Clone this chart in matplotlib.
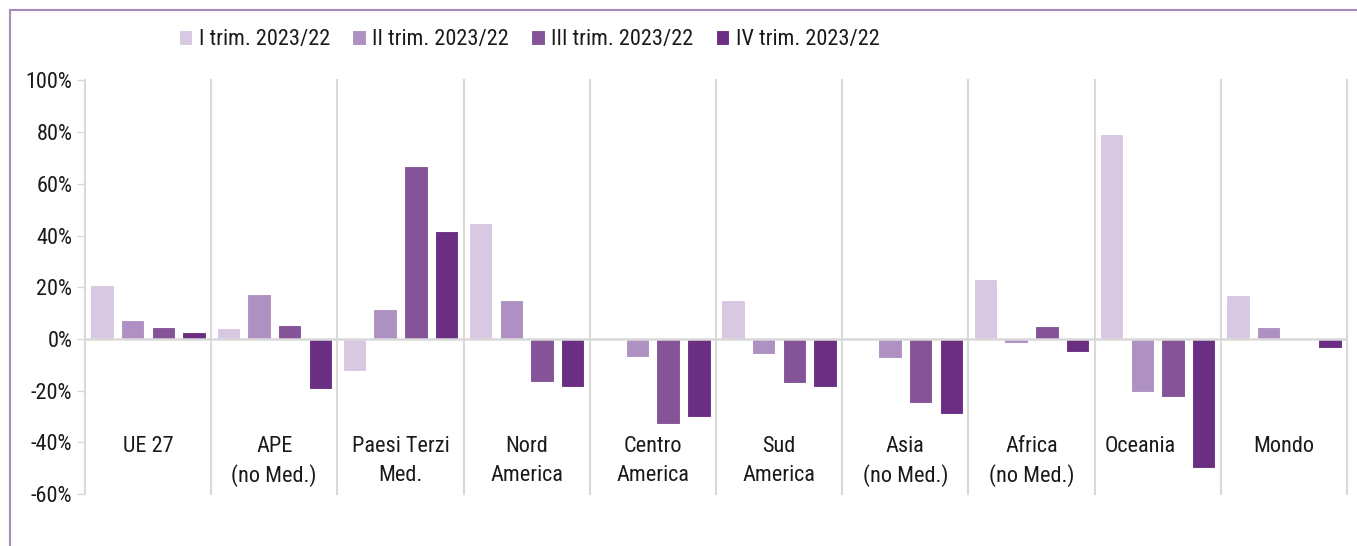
import matplotlib
matplotlib.use('Agg')
import matplotlib.pyplot as plt
from matplotlib.patches import Rectangle
from matplotlib.ticker import FuncFormatter
import numpy as np

plt.rcParams['font.family'] = ['Liberation Sans Narrow', 'Roboto Condensed', 'DejaVu Sans']

categories = ['UE 27', 'APE\n(no Med.)', 'Paesi Terzi\nMed.', 'Nord\nAmerica', 'Centro\nAmerica',
              'Sud\nAmerica', 'Asia\n(no Med.)', 'Africa\n(no Med.)', 'Oceania', 'Mondo']
series = ['I trim. 2023/22', 'II trim. 2023/22', 'III trim. 2023/22', 'IV trim. 2023/22']
q1 = [20.9, 4.3, -12.3, 44.8, -0.5, 15.1, 0.0, 23.2, 79.4, 17.1]
q2 = [7.3, 17.5, 11.5, 15.1, -6.8, -5.9, -7.5, -1.7, -20.4, 4.5]
q3 = [4.6, 5.3, 66.9, -16.5, -32.9, -17.1, -24.8, 5.2, -22.4, -0.6]
q4 = [2.6, -19.5, 41.7, -18.4, -30.2, -18.7, -29.0, -5.2, -50.0, -3.6]
colors = ['#d8c8e2', '#ae91c2', '#855397', '#6a2e82']
# label nudges (category units) where a label would collide with a bar
label_shift = [0, 0, 0, 0, 0, 0, 0, 0, -0.14, 0]

fig = plt.figure(figsize=(13.57, 5.46), dpi=100)
ax = fig.add_axes([0.0626, 0.0952, 0.930, 0.7574])

x = np.arange(len(categories))
w = 0.186
step = 0.243
for k, vals in enumerate([q1, q2, q3, q4]):
    ax.bar(x + (k - 1.5) * step, vals, width=w, color=colors[k], edgecolor='white',
           linewidth=0.8, label=series[k], zorder=2)

ax.set_xlim(-0.5, len(categories) - 0.5)
ax.set_ylim(-60, 100)
ax.set_yticks(np.arange(-60, 101, 20))
ax.yaxis.set_major_formatter(FuncFormatter(lambda v, p: f'{v:.0f}%'))
ax.tick_params(axis='y', labelsize=16, length=6, width=1, color='#d9d9d9', pad=3, labelcolor='#1a1a1a')
ax.set_xticks([])

for s in ['top', 'right', 'bottom']:
    ax.spines[s].set_visible(False)
ax.spines['left'].set_color('#d9d9d9')
ax.spines['left'].set_linewidth(1.5)

for b in np.arange(0.5, len(categories), 1.0):
    ax.axvline(b, color='#d9d9d9', lw=1.5, zorder=1, clip_on=False)
ax.axhline(0, color='#d9d9d9', lw=1.8, zorder=3)

for i, lab in enumerate(categories):
    for j, line in enumerate(lab.split('\n')):
        ax.text(i + label_shift[i], -41.7 - 11.2 * j, line, ha='center', va='center',
                fontsize=16, color='#1a1a1a')

fig.legend(loc='center', bbox_to_anchor=(0.39, 0.927), ncol=4, frameon=False, fontsize=16,
           handlelength=0.6, handleheight=0.6, handletextpad=0.3, columnspacing=1.0,
           labelcolor='#1a1a1a')

fig.add_artist(Rectangle((0.0074, -0.05), 1.2, 0.9817 + 0.05, fill=False,
                         edgecolor='#a88bbb', lw=1.5, transform=fig.transFigure))

fig.savefig('out.png', dpi=100)
